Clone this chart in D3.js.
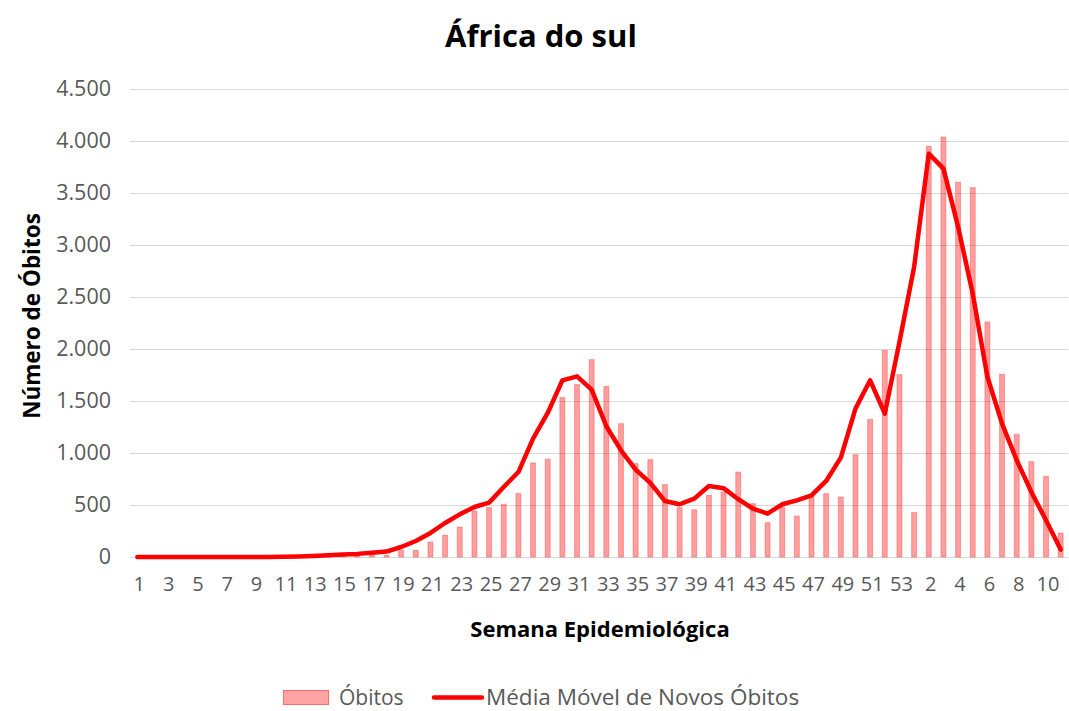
<!DOCTYPE html>
<html>
<head>
<meta charset="utf-8">
<script src="https://cdn.jsdelivr.net/npm/d3@7"></script>
<style>
  html, body { margin: 0; padding: 0; background: #fff; }
  svg { display: block; font-family: "Open Sans", Lato, sans-serif; }
</style>
</head>
<body>
<div id="chart"></div>
<script>
// semana epidemiológica: 2020 (1..53) seguida de 2021 (1..11)
const weekLabels = [
  "1","2","3","4","5","6","7","8","9","10","11","12","13","14","15","16","17","18","19","20",
  "21","22","23","24","25","26","27","28","29","30","31","32","33","34","35","36","37","38","39","40",
  "41","42","43","44","45","46","47","48","49","50","51","52","53",
  "1","2","3","4","5","6","7","8","9","10","11"
];

const obitos = [
  0, 0, 0, 0, 0, 0, 0, 0, 0, 0, 0, 0, 3, 10, 15, 20, 20, 15, 65, 65,
  144, 210, 288, 442, 475, 507, 610, 904, 940, 1533, 1658, 1898, 1641, 1282, 898, 936, 696, 475, 455, 593,
  625, 817, 513, 331, 481, 394, 577, 609, 577, 984, 1324, 1987, 1754,
  427, 3949, 4038, 3603, 3552, 2260, 1757, 1180, 917, 776, 231
];

const mediaMovel = [
  0, 0, 0, 0, 0, 0, 0, 0, 0, 0, 2, 5, 10, 16, 24, 30, 40, 52, 96, 154,
  231, 327, 410, 481, 523, 673, 817, 1138, 1385, 1699, 1737, 1609, 1257, 1026, 840, 712, 538, 507, 561, 683,
  662, 556, 465, 417, 507, 545, 593, 731, 956, 1427, 1699, 1379, 2067,
  2788, 3878, 3734, 3176, 2532, 1733, 1282, 930, 625, 353, 71
];

const yTicks = [0, 500, 1000, 1500, 2000, 2500, 3000, 3500, 4000, 4500];

const width = 1069;
const height = 711;
const margin = { top: 89, right: 1, bottom: 154, left: 130 };

const svg = d3.select("#chart").append("svg")
  .attr("width", width)
  .attr("height", height);

const idx = d3.range(weekLabels.length);

const x = d3.scaleBand()
  .domain(idx)
  .range([margin.left, width - margin.right])
  .paddingInner(0.66)
  .paddingOuter(0.33);

const y = d3.scaleLinear()
  .domain([0, 4500])
  .range([height - margin.bottom, margin.top]);

// gridlines
svg.append("g")
  .selectAll("line")
  .data(yTicks)
  .join("line")
  .attr("x1", margin.left)
  .attr("x2", width - margin.right)
  .attr("y1", (d) => Math.round(y(d)) + 0.5)
  .attr("y2", (d) => Math.round(y(d)) + 0.5)
  .attr("stroke", "#d9d9d9")
  .attr("stroke-width", 1.2);

// y axis labels
const fmt = d3.formatLocale({ decimal: ",", thousands: ".", grouping: [3], currency: ["", ""] }).format(",");
const yAxis = svg.append("g")
  .attr("transform", `translate(${margin.left - 19},0)`)
  .call(d3.axisLeft(y).tickValues(yTicks).tickSize(0).tickPadding(0).tickFormat(fmt));
yAxis.select(".domain").remove();
yAxis.selectAll("text")
  .attr("fill", "#595959")
  .style("font-size", "21.5px")
  .style("font-family", "'Open Sans', sans-serif");

// x axis labels
const xAxis = svg.append("g")
  .attr("transform", `translate(0,${height - margin.bottom})`)
  .call(d3.axisBottom(x)
    .tickValues(idx.filter((i) => i % 2 === 0))
    .tickSize(0)
    .tickPadding(20)
    .tickFormat((i) => weekLabels[i]));
xAxis.select(".domain").remove();
xAxis.selectAll("text")
  .attr("fill", "#595959")
  .attr("dx", 2)
  .style("font-size", "20px")
  .style("font-family", "'Open Sans', sans-serif");

// bars
svg.append("g")
  .selectAll("rect")
  .data(obitos)
  .join("rect")
  .attr("x", (d, i) => x(i))
  .attr("width", x.bandwidth())
  .attr("y", (d) => y(d))
  .attr("height", (d) => y(0) - y(d))
  .attr("fill", "rgba(255,0,0,0.38)")
  .attr("stroke", "rgba(255,40,40,0.35)")
  .attr("stroke-width", 1);

// moving average line
const line = d3.line()
  .x((d, i) => x(i) + x.bandwidth() / 2)
  .y((d) => y(d));

svg.append("path")
  .datum(mediaMovel)
  .attr("d", line)
  .attr("fill", "none")
  .attr("stroke", "#ff0000")
  .attr("stroke-width", 4.5)
  .attr("stroke-linejoin", "round")
  .attr("stroke-linecap", "round");

// title
svg.append("text")
  .attr("x", 541)
  .attr("y", 47)
  .attr("text-anchor", "middle")
  .style("font-size", "31px")
  .style("font-weight", "bold")
  .attr("fill", "#000")
  .text("África do sul");

// axis titles
svg.append("text")
  .attr("transform", "translate(40,316) rotate(-90)")
  .attr("text-anchor", "middle")
  .style("font-size", "22.5px")
  .style("font-weight", "bold")
  .attr("fill", "#000")
  .text("Número de Óbitos");

svg.append("text")
  .attr("x", 600)
  .attr("y", 637)
  .attr("text-anchor", "middle")
  .style("font-size", "22px")
  .style("font-weight", "bold")
  .attr("fill", "#000")
  .text("Semana Epidemiológica");

// legend
const legend = svg.append("g");
legend.append("rect")
  .attr("x", 283.5)
  .attr("y", 690.5)
  .attr("width", 45)
  .attr("height", 14)
  .attr("fill", "#ffa3a3")
  .attr("stroke", "#ff6a6a")
  .attr("stroke-width", 1);
legend.append("text")
  .attr("x", 339)
  .attr("y", 705)
  .attr("fill", "#595959")
  .style("font-size", "21px")
  .text("Óbitos");
legend.append("line")
  .attr("x1", 434)
  .attr("x2", 482)
  .attr("y1", 697.5)
  .attr("y2", 697.5)
  .attr("stroke", "#ff0000")
  .attr("stroke-width", 4.5)
  .attr("stroke-linecap", "round");
legend.append("text")
  .attr("x", 486)
  .attr("y", 705)
  .attr("fill", "#595959")
  .style("font-size", "22.5px")
  .text("Média Móvel de Novos Óbitos");
</script>
</body>
</html>
